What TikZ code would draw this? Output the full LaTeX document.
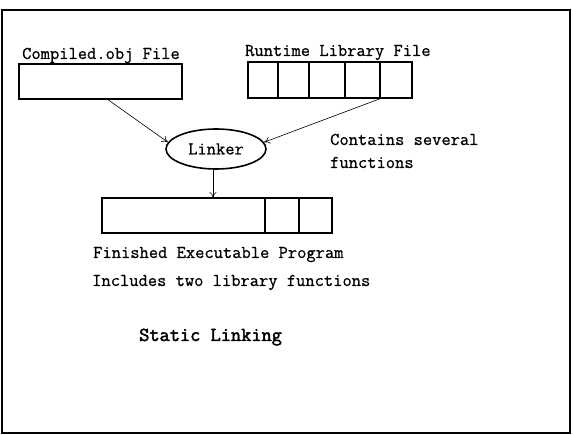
\documentclass[tikz,border=0pt]{standalone}
\usepackage{fontspec}
\newfontfamily\lblfont{Latin Modern Mono}[FakeBold=0.7]
\newfontfamily\headfont{Latin Modern Mono}[FakeBold=2.2]
\usetikzlibrary{shapes.geometric,arrows.meta}
\begin{document}
\begin{tikzpicture}[x=1pt,y=-1pt,
  lbl/.style={font=\fontsize{18}{20}\lblfont, inner sep=0pt, anchor=base west},
  cellbox/.style={draw, line width=1.6pt, inner sep=0pt, outer sep=0pt, anchor=north west},
  arr/.style={-{To[length=6pt,width=7pt]}, line width=0.6pt},
  framebox/.style={draw, line width=2.2pt}
]
\useasboundingbox (0,0) rectangle (573,435);
% outer frame
\node[framebox, inner sep=0pt, outer sep=0pt, minimum width=568pt, minimum height=423pt, anchor=north west] (frame) at (2,10) {};

% object file
\node[lbl] (clbl) at (22,59) {Compiled.obj File};
\node[cellbox, minimum width=163pt, minimum height=35pt] (cbox) at (19,64) {};

% runtime library: five cells
\node[lbl] (rlbl) at (245,56) {Runtime Library File};
\node[cellbox, minimum width=30pt, minimum height=36pt] (r1) at (248,62) {};
\node[cellbox, minimum width=31pt, minimum height=36pt] (r2) at (278,62) {};
\node[cellbox, minimum width=36pt, minimum height=36pt] (r3) at (309,62) {};
\node[cellbox, minimum width=35pt, minimum height=36pt] (r4) at (345,62) {};
\node[cellbox, minimum width=32pt, minimum height=36pt] (r5) at (380,62) {};

% linker
\node[ellipse, draw, line width=1.6pt, minimum width=100pt, minimum height=40pt, inner sep=0pt,
      font=\fontsize{18}{20}\lblfont] (link) at (216,149) {Linker};

\node[lbl] (note1) at (330,145) {Contains several};
\node[lbl] (note2) at (330,168) {functions};

% executable
\node[cellbox, minimum width=163pt, minimum height=35pt] (e1) at (102,198) {};
\node[cellbox, minimum width=34pt, minimum height=35pt] (e2) at (265,198) {};
\node[cellbox, minimum width=33pt, minimum height=35pt] (e3) at (299,198) {};

\node[lbl] (elbl1) at (93,258) {Finished Executable Program};
\node[lbl] (elbl2) at (92,286) {Includes two library functions};

\node[lbl, font=\fontsize{19.8}{22}\headfont] (title) at (139,341) {Static Linking};

% connectors
\draw[arr] ([xshift=6.5pt]cbox.south) -- (link.172);
\draw[arr] ([xshift=2pt]r5.south west) -- (link.8);
\draw[arr] ([xshift=-3pt]link.south) -- ([xshift=-3pt]link.south |- e1.north);
\end{tikzpicture}
\end{document}
